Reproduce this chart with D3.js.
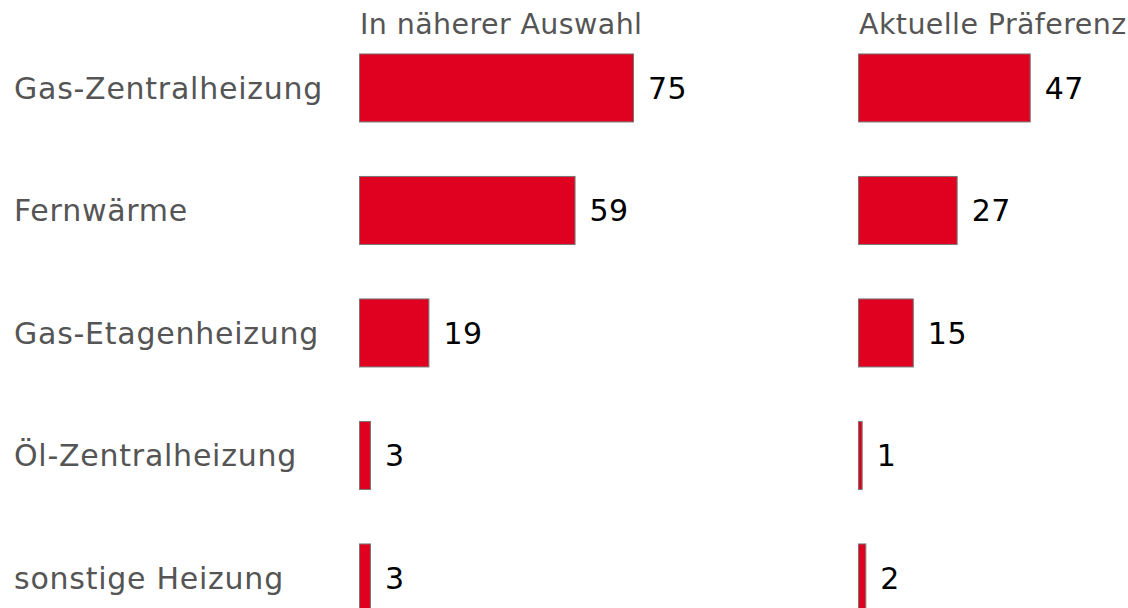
<!DOCTYPE html>
<html>
<head>
<meta charset="utf-8">
<script src="https://cdn.jsdelivr.net/npm/d3@7"></script>
<style>
  body { margin: 0; background: #fff; }
  text { font-family: Verdana, "DejaVu Sans", sans-serif; }
</style>
</head>
<body>
<script>
// chart data
var categories = ["Gas-Zentralheizung", "Fernwärme", "Gas-Etagenheizung", "Öl-Zentralheizung", "sonstige Heizung"];
var auswahl = [75, 59, 19, 3, 3];
var praeferenz = [47, 27, 15, 1, 2];
var headers = ["In näherer Auswahl", "Aktuelle Präferenz"];

var svg = d3.select("body").append("svg").attr("width", 1128).attr("height", 608);

var y = d3.scaleBand()
    .domain(categories)
    .range([26.7, 639.2])
    .paddingInner(0.445)
    .paddingOuter(0.2225);

var x = d3.scaleLinear()
    .domain([0, 75])
    .range([0, 274]);

// category labels on the left
svg.append("g")
  .selectAll("text")
  .data(categories)
  .enter().append("text")
    .attr("x", 14)
    .attr("y", function(d) { return y(d) + y.bandwidth() / 2; })
    .attr("dy", "0.36em")
    .attr("font-size", 30)
    .attr("letter-spacing", 0.75)
    .attr("fill", "#555")
    .text(function(d) { return d; });

var panels = [
  {title: headers[0], values: auswahl, left: 359},
  {title: headers[1], values: praeferenz, left: 858}
];

panels.forEach(function(p) {
  var g = svg.append("g").attr("transform", "translate(" + p.left + ",0)");

  g.append("text")
      .attr("x", 1)
      .attr("y", 34)
      .attr("font-size", 28.5)
      .attr("letter-spacing", 0.4)
      .attr("fill", "#555")
      .text(p.title);

  var rows = p.values.map(function(v, i) { return {cat: categories[i], value: v}; });

  g.selectAll("rect")
    .data(rows)
    .enter().append("rect")
      .attr("x", 0.5)
      .attr("y", function(d) { return y(d.cat); })
      .attr("width", function(d) { return x(d.value); })
      .attr("height", y.bandwidth())
      .attr("fill", "#e00020")
      .attr("stroke", "#777")
      .attr("stroke-width", 1);

  g.selectAll(".val")
    .data(rows)
    .enter().append("text")
      .attr("class", "val")
      .attr("x", function(d) { return x(d.value) + 15; })
      .attr("y", function(d) { return y(d.cat) + y.bandwidth() / 2; })
      .attr("dy", "0.36em")
      .attr("font-size", 30)
      .attr("letter-spacing", 0.5)
      .attr("fill", "#000")
      .text(function(d) { return d.value; });
});
</script>
</body>
</html>
